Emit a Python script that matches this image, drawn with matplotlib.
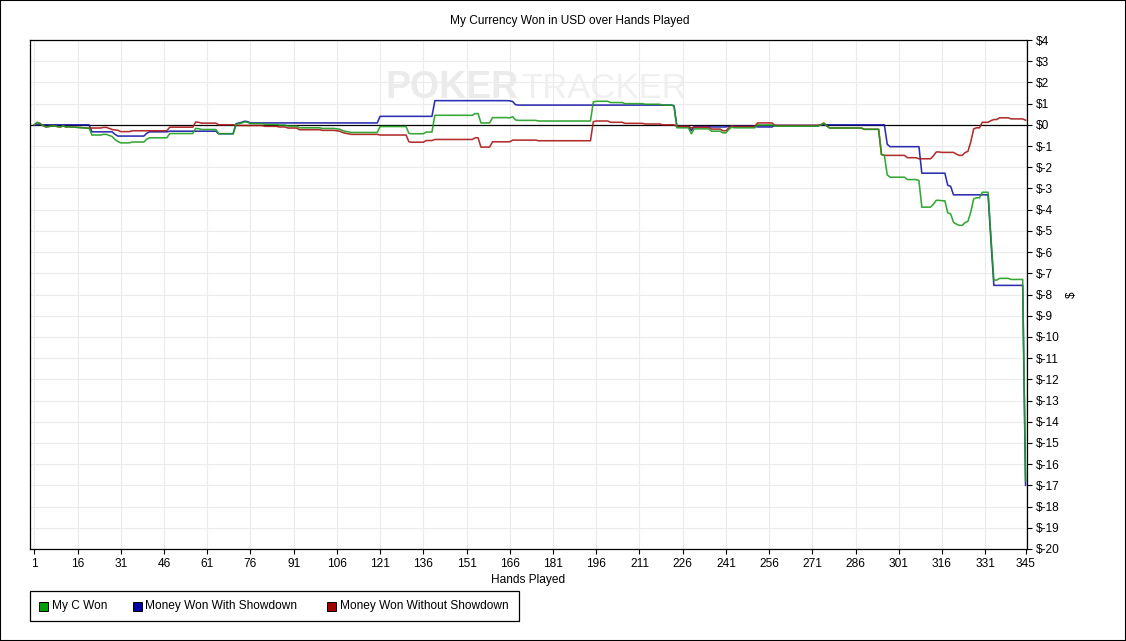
import numpy as np
import matplotlib
matplotlib.use("Agg")
import matplotlib.pyplot as plt
from matplotlib.patches import Rectangle

plt.rcParams["text.parse_math"] = False
plt.rcParams["font.family"] = ["Liberation Sans", "DejaVu Sans"]

# ---------------- data ----------------
title = "My Currency Won in USD over Hands Played"
x_label = "Hands Played"
y_label = "$"
series_names = ["My C Won", "Money Won With Showdown", "Money Won Without Showdown"]
x_ticks = [1, 16, 31, 46, 61, 76, 91, 106, 121, 136, 151, 166, 181, 196, 211,
           226, 241, 256, 271, 286, 301, 316, 331, 345]
y_ticks = list(range(-20, 5))
y_tick_labels = ["$" + str(v) for v in y_ticks]

with_showdown = [
    0, 0, 0, 0, 0, 0, 0, 0, 0, 0, 0, 0, 0, 0, 0,
    0, 0, 0, 0, 0, -0.33, -0.33, -0.33, -0.33, -0.33, -0.33, -0.33, -0.33, -0.45, -0.53,
    -0.53, -0.53, -0.53, -0.53, -0.53, -0.53, -0.53, -0.53, -0.53, -0.40, -0.33, -0.33, -0.33, -0.33, -0.33,
    -0.33, -0.33, -0.30, -0.30, -0.30, -0.30, -0.30, -0.30, -0.30, -0.30, -0.30, -0.30, -0.30, -0.30, -0.30,
    -0.30, -0.30, -0.30, -0.30, -0.42, -0.42, -0.42, -0.42, -0.42, -0.42, 0.05, 0.09, 0.12, 0.17, 0.15,
    0.09, 0.09, 0.09, 0.09, 0.09, 0.09, 0.09, 0.09, 0.09, 0.09, 0.09, 0.09, 0.09, 0.09, 0.09,
    0.09, 0.09, 0.09, 0.09, 0.09, 0.09, 0.09, 0.09, 0.09, 0.09, 0.09, 0.09, 0.09, 0.09, 0.09,
    0.09, 0.09, 0.09, 0.09, 0.09, 0.09, 0.09, 0.09, 0.09, 0.09, 0.09, 0.09, 0.09, 0.09, 0.09,
    0.40, 0.40, 0.40, 0.40, 0.40, 0.40, 0.40, 0.40, 0.40, 0.40, 0.40, 0.40, 0.40, 0.40, 0.40,
    0.40, 0.40, 0.40, 0.40, 1.14, 1.14, 1.14, 1.14, 1.14, 1.14, 1.14, 1.14, 1.14, 1.14, 1.14,
    1.14, 1.14, 1.14, 1.14, 1.14, 1.14, 1.14, 1.14, 1.14, 1.14, 1.14, 1.14, 1.14, 1.14, 1.14,
    1.13, 1.10, 0.95, 0.93, 0.93, 0.93, 0.93, 0.93, 0.93, 0.93, 0.93, 0.93, 0.93, 0.93, 0.93,
    0.93, 0.93, 0.93, 0.93, 0.93, 0.93, 0.93, 0.93, 0.93, 0.93, 0.93, 0.93, 0.93, 0.93, 0.93,
    0.93, 0.93, 0.93, 0.93, 0.93, 0.93, 0.93, 0.93, 0.93, 0.93, 0.93, 0.93, 0.93, 0.93, 0.93,
    0.93, 0.93, 0.93, 0.93, 0.93, 0.93, 0.93, 0.93, 0.93, 0.93, 0.93, 0.93, 0.90, -0.07, -0.07,
    -0.07, -0.07, -0.07, -0.27, -0.08, -0.08, -0.08, -0.08, -0.08, -0.08, -0.10, -0.10, -0.10, -0.10, -0.10,
    -0.10, -0.07, -0.06, -0.06, -0.06, -0.06, -0.06, -0.06, -0.06, -0.06, -0.06, -0.10, -0.10, -0.10, -0.10,
    -0.10, -0.10, -0.03, -0.03, -0.03, -0.03, -0.03, -0.03, -0.03, -0.03, -0.03, -0.03, -0.03, -0.03, -0.03,
    -0.03, -0.03, -0.03, 0, 0, 0, 0, 0, 0, 0, 0, 0, 0, 0, 0,
    0, 0, 0, 0, 0, 0, 0, 0, 0, 0, 0, -0.92, -1.03, -1.03, -1.03,
    -1.03, -1.03, -1.03, -1.03, -1.03, -1.03, -1.03, -1.03, -2.28, -2.28, -2.28, -2.28, -2.28, -2.28, -2.28,
    -2.28, -2.28, -2.85, -2.90, -3.30, -3.30, -3.30, -3.30, -3.30, -3.30, -3.30, -3.30, -3.30, -3.30, -3.30,
    -3.30, -3.30, -5.50, -7.57, -7.57, -7.57, -7.57, -7.57, -7.57, -7.57, -7.57, -7.57, -7.57, -7.57, -17.0,
]

without_showdown = [
    0, 0.11, 0.06, -0.03, -0.10, -0.08, -0.06, -0.05, -0.08, -0.10, -0.05, -0.10, -0.09, -0.11, -0.11,
    -0.12, -0.13, -0.14, -0.15, -0.16, -0.15, -0.15, -0.15, -0.15, -0.12, -0.12, -0.17, -0.22, -0.24, -0.26,
    -0.32, -0.32, -0.32, -0.32, -0.28, -0.28, -0.28, -0.28, -0.28, -0.28, -0.28, -0.28, -0.28, -0.28, -0.28,
    -0.28, -0.28, -0.11, -0.11, -0.11, -0.11, -0.11, -0.11, -0.11, -0.11, -0.11, 0.13, 0.12, 0.08, 0.08,
    0.08, 0.08, 0.08, 0.08, 0.0, 0.0, 0.0, 0.0, 0.0, 0.0, -0.03, -0.03, -0.03, -0.03, -0.03,
    -0.03, -0.03, -0.03, -0.03, -0.03, -0.07, -0.07, -0.07, -0.07, -0.07, -0.10, -0.10, -0.10, -0.15, -0.15,
    -0.15, -0.15, -0.23, -0.23, -0.23, -0.23, -0.23, -0.23, -0.23, -0.23, -0.26, -0.26, -0.26, -0.26, -0.26,
    -0.28, -0.30, -0.36, -0.40, -0.42, -0.45, -0.45, -0.45, -0.45, -0.45, -0.45, -0.45, -0.45, -0.45, -0.45,
    -0.48, -0.48, -0.48, -0.48, -0.48, -0.48, -0.48, -0.48, -0.48, -0.48, -0.80, -0.82, -0.82, -0.82, -0.82,
    -0.82, -0.74, -0.74, -0.74, -0.69, -0.69, -0.69, -0.69, -0.69, -0.69, -0.69, -0.69, -0.69, -0.69, -0.69,
    -0.69, -0.69, -0.69, -0.61, -0.61, -1.05, -1.05, -1.05, -1.05, -0.80, -0.80, -0.80, -0.80, -0.80, -0.80,
    -0.80, -0.72, -0.72, -0.72, -0.72, -0.72, -0.72, -0.72, -0.72, -0.72, -0.75, -0.75, -0.75, -0.75, -0.75,
    -0.75, -0.75, -0.75, -0.75, -0.75, -0.75, -0.75, -0.75, -0.75, -0.75, -0.75, -0.75, -0.75, -0.75, 0.15,
    0.18, 0.18, 0.18, 0.18, 0.18, 0.12, 0.12, 0.12, 0.12, 0.12, 0.07, 0.07, 0.07, 0.07, 0.07,
    0.07, 0.07, 0.04, 0.04, 0.04, 0.04, 0.04, 0.04, 0.0, 0.0, 0.0, 0.0, 0.0, -0.07, -0.07,
    -0.07, -0.07, -0.07, -0.15, -0.11, -0.11, -0.11, -0.11, -0.11, -0.11, -0.20, -0.20, -0.20, -0.20, -0.28,
    -0.28, -0.15, -0.05, -0.08, -0.08, -0.08, -0.08, -0.08, -0.08, -0.08, -0.08, 0.09, 0.09, 0.09, 0.09,
    0.09, 0.09, -0.03, -0.03, -0.03, -0.03, -0.03, -0.03, -0.03, -0.03, -0.03, -0.03, -0.03, -0.03, -0.03,
    -0.03, -0.03, -0.03, 0.0, 0.08, -0.05, -0.15, -0.15, -0.15, -0.15, -0.15, -0.15, -0.15, -0.15, -0.15,
    -0.15, -0.15, -0.15, -0.21, -0.21, -0.21, -0.21, -0.21, -0.21, -1.40, -1.44, -1.44, -1.44, -1.44, -1.44,
    -1.44, -1.44, -1.44, -1.55, -1.55, -1.55, -1.55, -1.60, -1.60, -1.60, -1.60, -1.60, -1.47, -1.28, -1.28,
    -1.30, -1.30, -1.30, -1.30, -1.30, -1.38, -1.44, -1.44, -1.31, -1.25, -0.80, -0.19, -0.14, -0.14, 0.12,
    0.12, 0.12, 0.20, 0.25, 0.25, 0.33, 0.33, 0.33, 0.33, 0.28, 0.28, 0.28, 0.28, 0.28, 0.22,
]

my_c_won = [
    0, 0.11, 0.06, -0.03, -0.10, -0.08, -0.06, -0.05, -0.08, -0.10, -0.05, -0.10, -0.09, -0.11, -0.11,
    -0.12, -0.13, -0.14, -0.15, -0.16, -0.48, -0.48, -0.48, -0.48, -0.45, -0.45, -0.50, -0.55, -0.69, -0.79,
    -0.85, -0.85, -0.85, -0.85, -0.81, -0.81, -0.81, -0.81, -0.81, -0.68, -0.61, -0.61, -0.61, -0.61, -0.61,
    -0.61, -0.61, -0.41, -0.41, -0.41, -0.41, -0.41, -0.41, -0.41, -0.41, -0.41, -0.17, -0.18, -0.22, -0.22,
    -0.22, -0.22, -0.22, -0.22, -0.42, -0.42, -0.42, -0.42, -0.42, -0.42, 0.02, 0.06, 0.09, 0.14, 0.12,
    0.06, 0.06, 0.06, 0.06, 0.06, 0.02, 0.02, 0.02, 0.02, 0.02, -0.01, -0.01, -0.01, -0.06, -0.06,
    -0.06, -0.06, -0.14, -0.14, -0.14, -0.14, -0.14, -0.14, -0.14, -0.14, -0.17, -0.17, -0.17, -0.17, -0.17,
    -0.19, -0.21, -0.27, -0.31, -0.33, -0.36, -0.36, -0.36, -0.36, -0.36, -0.36, -0.36, -0.36, -0.36, -0.36,
    -0.08, -0.08, -0.08, -0.08, -0.08, -0.08, -0.08, -0.08, -0.08, -0.08, -0.40, -0.42, -0.42, -0.42, -0.42,
    -0.42, -0.34, -0.34, -0.34, 0.45, 0.45, 0.45, 0.45, 0.45, 0.45, 0.45, 0.45, 0.45, 0.45, 0.45,
    0.45, 0.45, 0.45, 0.53, 0.53, 0.09, 0.09, 0.09, 0.09, 0.34, 0.34, 0.34, 0.34, 0.34, 0.34,
    0.33, 0.38, 0.23, 0.21, 0.21, 0.21, 0.21, 0.21, 0.21, 0.21, 0.18, 0.18, 0.18, 0.18, 0.18,
    0.18, 0.18, 0.18, 0.18, 0.18, 0.18, 0.18, 0.18, 0.18, 0.18, 0.18, 0.18, 0.18, 0.18, 1.08,
    1.11, 1.11, 1.11, 1.11, 1.11, 1.05, 1.05, 1.05, 1.05, 1.05, 1.00, 1.00, 1.00, 1.00, 1.00,
    1.00, 1.00, 0.97, 0.97, 0.97, 0.97, 0.97, 0.97, 0.93, 0.93, 0.93, 0.93, 0.90, -0.14, -0.14,
    -0.14, -0.14, -0.14, -0.42, -0.19, -0.19, -0.19, -0.19, -0.19, -0.19, -0.30, -0.30, -0.30, -0.30, -0.38,
    -0.38, -0.22, -0.11, -0.14, -0.14, -0.14, -0.14, -0.14, -0.14, -0.14, -0.14, -0.01, -0.01, -0.01, -0.01,
    -0.01, -0.01, -0.06, -0.06, -0.06, -0.06, -0.06, -0.06, -0.06, -0.06, -0.06, -0.06, -0.06, -0.06, -0.06,
    -0.06, -0.06, -0.06, 0.0, 0.08, -0.05, -0.15, -0.15, -0.15, -0.15, -0.15, -0.15, -0.15, -0.15, -0.15,
    -0.15, -0.15, -0.15, -0.21, -0.21, -0.21, -0.21, -0.21, -0.21, -1.40, -1.44, -2.36, -2.47, -2.47, -2.47,
    -2.47, -2.47, -2.47, -2.58, -2.58, -2.58, -2.58, -2.63, -3.88, -3.88, -3.88, -3.88, -3.75, -3.56, -3.56,
    -3.58, -3.58, -4.15, -4.20, -4.60, -4.68, -4.74, -4.74, -4.61, -4.55, -4.10, -3.49, -3.44, -3.44, -3.18,
    -3.18, -3.18, -5.30, -7.32, -7.32, -7.24, -7.24, -7.24, -7.24, -7.29, -7.29, -7.29, -7.29, -7.29, -16.78,
]

hands = np.arange(1, len(my_c_won) + 1)

# ---------------- styling ----------------
W, H = 1126, 641
line_colors = ["#1e9e1e", "#1717aa", "#aa1717"]
legend_colors = ["#00a000", "#0000a0", "#a00000"]
grid_color = "#ebebeb"
fs = 8.6

fig = plt.figure(figsize=(W / 100, H / 100), dpi=100)
fig.patch.set_facecolor("white")

ax = fig.add_axes([30 / W, 1 - 549 / H, 997 / W, 509 / H])
ax.set_xlim(-0.5, 345.5)
ax.set_ylim(-20, 4)

ax.set_xticks(x_ticks)
ax.set_xticklabels([str(t) for t in x_ticks], fontsize=fs)
ax.set_yticks(y_ticks)
ax.set_yticklabels(y_tick_labels, fontsize=fs)
ax.yaxis.tick_right()
ax.tick_params(axis="both", direction="out", length=3.5, width=0.8, color="black")
ax.tick_params(axis="x", pad=3)
ax.tick_params(axis="y", pad=3)

ax.grid(True, color=grid_color, linewidth=0.8, zorder=0)
ax.set_axisbelow(True)
for sp in ax.spines.values():
    sp.set_color("black")
    sp.set_linewidth(0.9)

# watermark
ax.text(0.4905, 0.905, "POKER", transform=ax.transAxes, ha="right", va="center",
        fontsize=27, fontweight="bold", color="#ebebeb", zorder=0.5)
ax.text(0.4925, 0.905, "TRACKER", transform=ax.transAxes, ha="left", va="center",
        fontsize=25, color="#f0f0f0", zorder=0.5)

ax.axhline(0, color="black", linewidth=0.9, zorder=2)

ax.plot(hands, with_showdown, color=line_colors[1], linewidth=1.15, zorder=3, alpha=0.9)
ax.plot(hands, without_showdown, color=line_colors[2], linewidth=1.15, zorder=4, alpha=0.9)
ax.plot(hands, my_c_won, color=line_colors[0], linewidth=1.15, zorder=5, alpha=0.9)

# titles / labels
fig.text(569.5 / W, 1 - 21 / H, title, ha="center", va="center", fontsize=fs)
fig.text(528 / W, 1 - 580 / H, x_label, ha="center", va="center", fontsize=fs)
fig.text(1072 / W, 1 - 295 / H, y_label, ha="center", va="center", fontsize=fs, rotation=90)

# legend (manual, to match the boxed layout)
fig.patches.append(Rectangle((30 / W, 1 - 621 / H), 489 / W, 30 / H, transform=fig.transFigure,
                             fill=False, edgecolor="black", linewidth=0.9))
sq_x = [39, 133, 327]
txt_x = [52, 145, 340]
for name, col, sx, tx in zip(series_names, legend_colors, sq_x, txt_x):
    fig.patches.append(Rectangle((sx / W, 1 - 610.5 / H), 8.5 / W, 8.5 / H, transform=fig.transFigure,
                                 facecolor=col, edgecolor="black", linewidth=0.7))
    fig.text(tx / W, 1 - 606.5 / H, name, ha="left", va="center", fontsize=fs)

# outer border
fig.patches.append(Rectangle((0, 0), 1, 1, transform=fig.transFigure, fill=False,
                             edgecolor="black", linewidth=1.5))

fig.savefig("out.png", dpi=100)
